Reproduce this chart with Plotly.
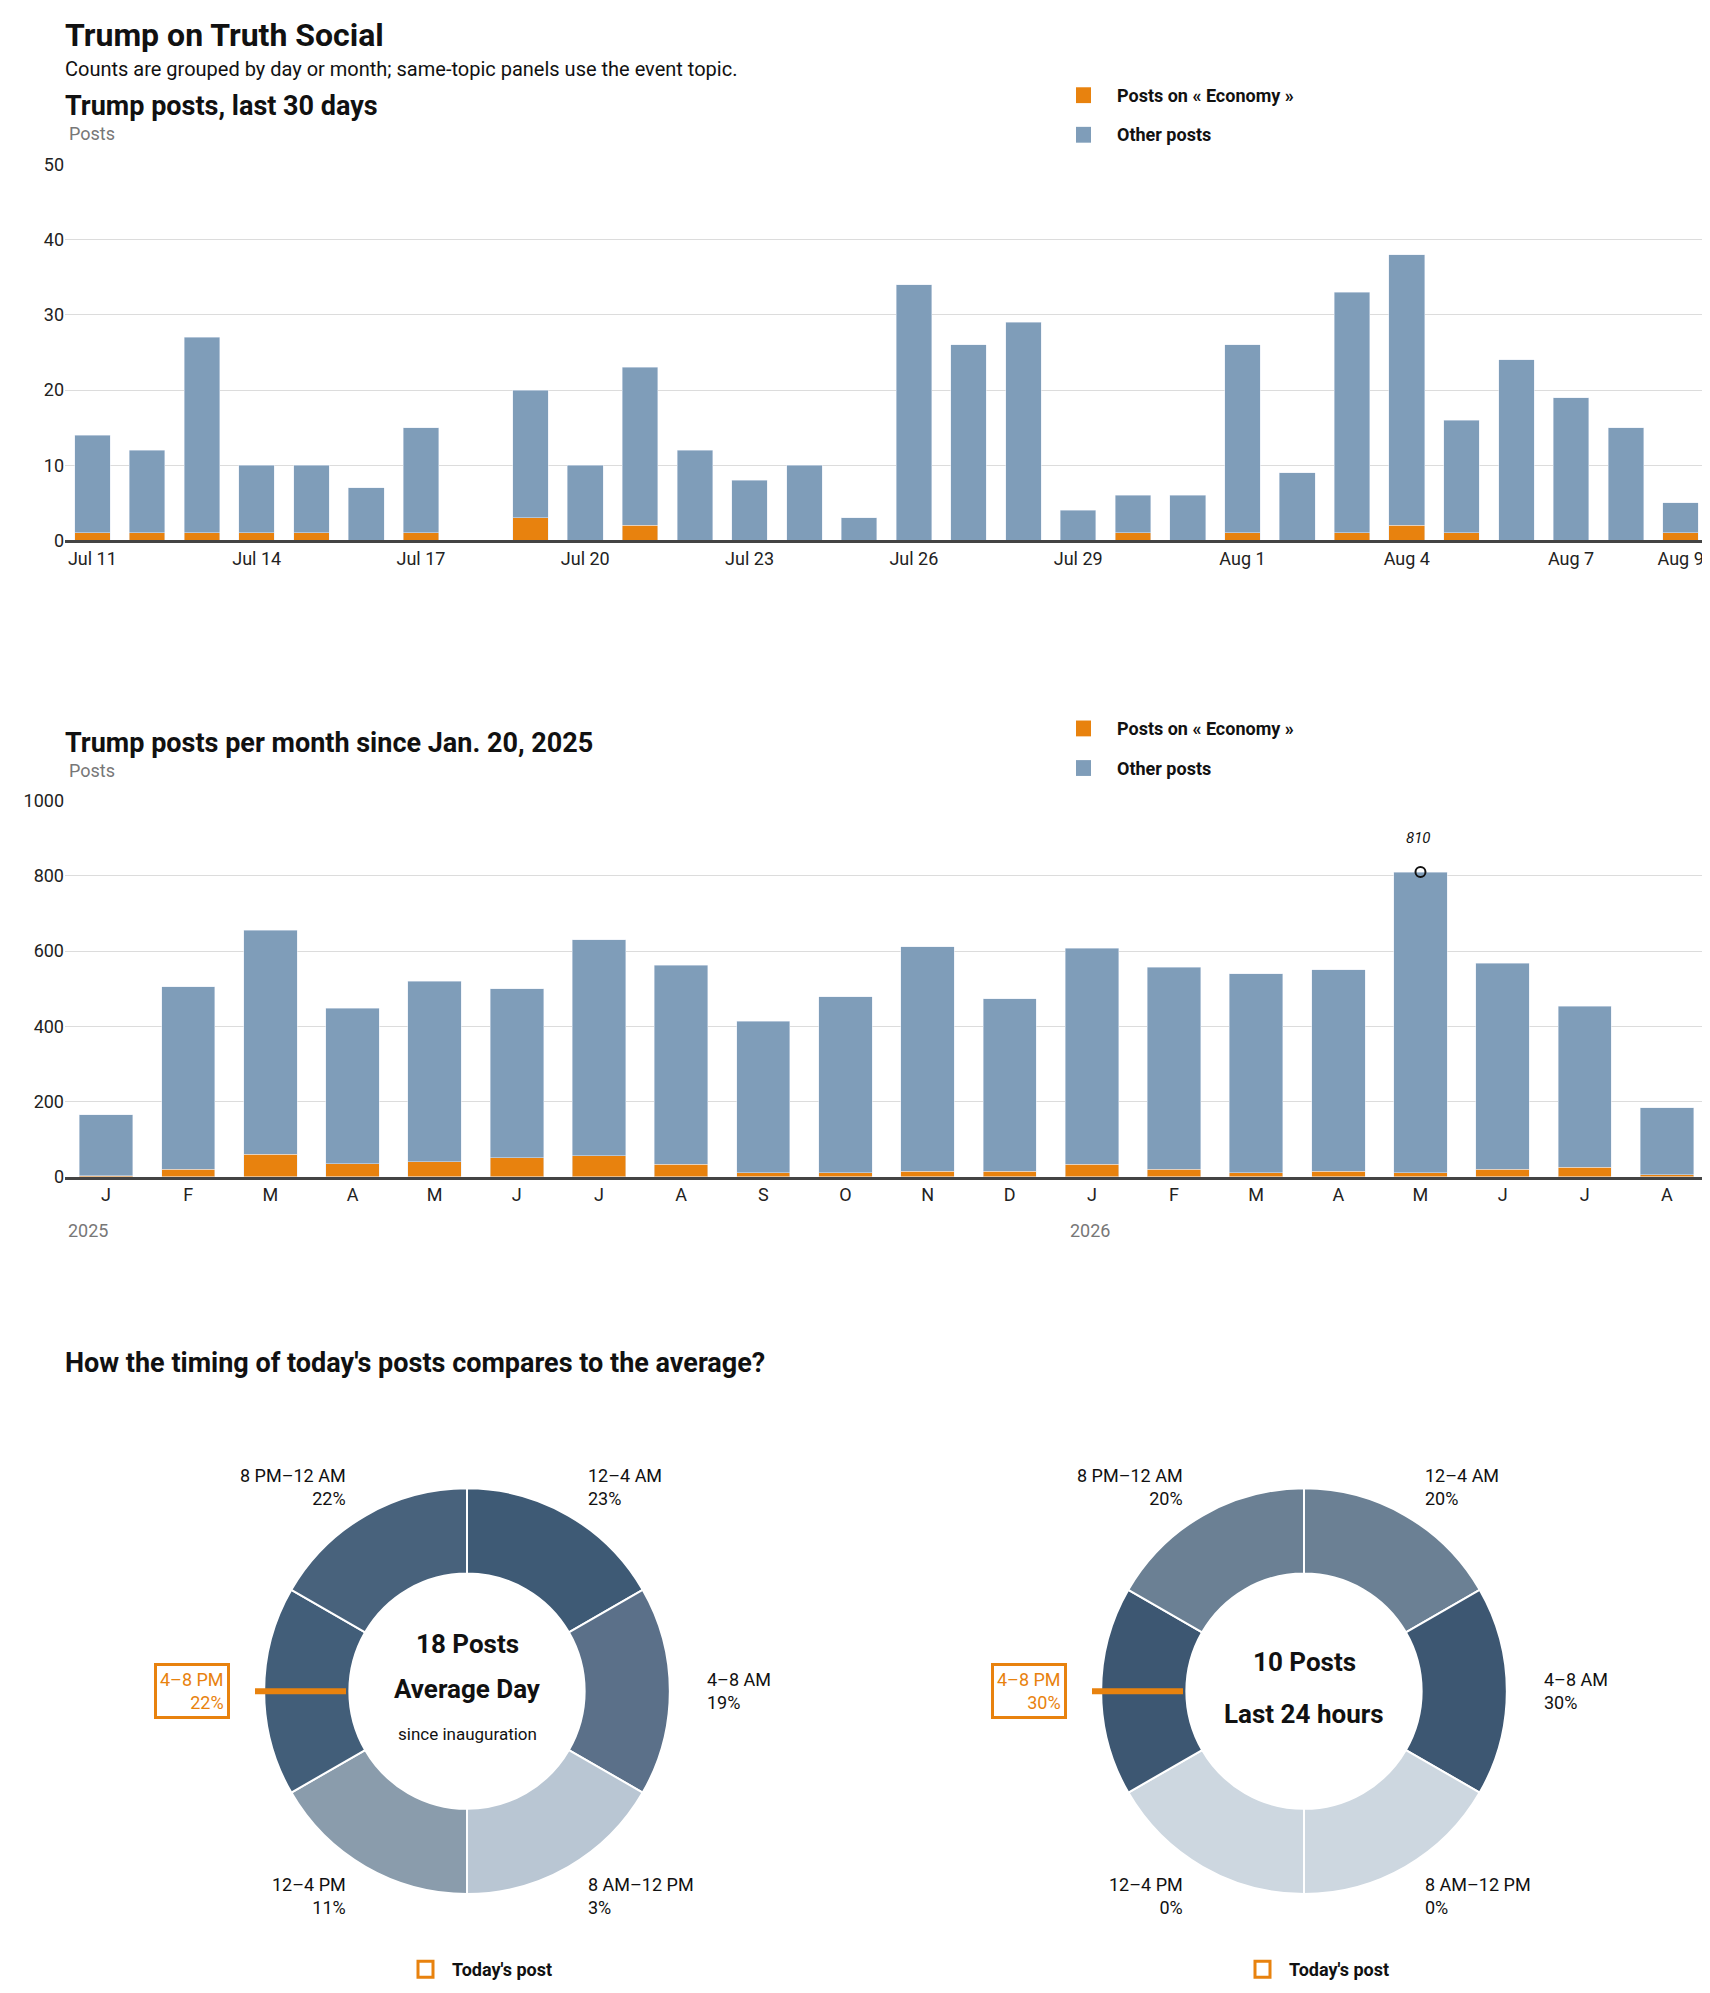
import plotly.graph_objects as go

# ── Data ────────────────────────────────────────────────────────────────
DAYS = ["Jul 11", "Jul 12", "Jul 13", "Jul 14", "Jul 15", "Jul 16", "Jul 17", "Jul 18",
        "Jul 19", "Jul 20", "Jul 21", "Jul 22", "Jul 23", "Jul 24", "Jul 25", "Jul 26",
        "Jul 27", "Jul 28", "Jul 29", "Jul 30", "Jul 31", "Aug 1", "Aug 2", "Aug 3",
        "Aug 4", "Aug 5", "Aug 6", "Aug 7", "Aug 8", "Aug 9"]
DAY_TOTAL = [14, 12, 27, 10, 10, 7, 15, 0, 20, 10, 23, 12, 8, 10, 3, 34,
             26, 29, 4, 6, 6, 26, 9, 33, 38, 16, 24, 19, 15, 5]
DAY_ECON = [1, 1, 1, 1, 1, 0, 1, 0, 3, 0, 2, 0, 0, 0, 0, 0,
            0, 0, 0, 1, 0, 1, 0, 1, 2, 1, 0, 0, 0, 1]
DAY_TICKS = ["Jul 11", "Jul 14", "Jul 17", "Jul 20", "Jul 23", "Jul 26", "Jul 29",
             "Aug 1", "Aug 4", "Aug 7", "Aug 9"]

MONTHS = ["2025-01", "2025-02", "2025-03", "2025-04", "2025-05", "2025-06", "2025-07",
          "2025-08", "2025-09", "2025-10", "2025-11", "2025-12", "2026-01", "2026-02",
          "2026-03", "2026-04", "2026-05", "2026-06", "2026-07", "2026-08"]
MONTH_LABELS = ["J", "F", "M", "A", "M", "J", "J", "A", "S", "O", "N", "D",
                "J", "F", "M", "A", "M", "J", "J", "A"]
MONTH_TOTAL = [165, 505, 655, 448, 520, 500, 630, 562, 413, 478, 612, 473,
               607, 557, 540, 550, 810, 567, 453, 183]
MONTH_ECON = [3, 20, 60, 35, 40, 50, 55, 33, 10, 10, 15, 15,
              33, 20, 10, 15, 10, 20, 25, 5]

SLOTS = ["12–4 AM", "4–8 AM", "8 AM–12 PM", "12–4 PM", "4–8 PM", "8 PM–12 AM"]
AVG_PCT = [23, 19, 3, 11, 22, 22]
TODAY_PCT = [20, 30, 0, 0, 30, 20]
AVG_COLORS = ["#3e5a75", "#5b7089", "#b9c6d3", "#8a9cac", "#425e79", "#48627c"]
TODAY_COLORS = ["#6b8094", "#3d5772", "#cdd7e0", "#cdd7e0", "#3d5772", "#6b8094"]

ORANGE = "#e8820e"
BLUE = "#7f9db9"
FONT = "Liberation Sans Narrow, Roboto, sans-serif"
W, H = 1710, 1993


def py(y):  # pixel row -> paper y
    return 1 - y / H


def px(x):
    return x / W


day_other = [t - e for t, e in zip(DAY_TOTAL, DAY_ECON)]
month_other = [t - e for t, e in zip(MONTH_TOTAL, MONTH_ECON)]

fig = go.Figure()
fig.add_trace(go.Bar(x=DAYS, y=DAY_ECON, marker_color=ORANGE, width=0.65,
                     xaxis="x", yaxis="y"))
fig.add_trace(go.Bar(x=DAYS, y=day_other, marker_color=BLUE, width=0.65,
                     xaxis="x", yaxis="y"))
fig.add_trace(go.Bar(x=MONTHS, y=MONTH_ECON, marker_color=ORANGE, width=0.65,
                     xaxis="x2", yaxis="y2"))
fig.add_trace(go.Bar(x=MONTHS, y=month_other, marker_color=BLUE, width=0.65,
                     xaxis="x2", yaxis="y2"))
peak = MONTH_TOTAL.index(max(MONTH_TOTAL))
fig.add_trace(go.Scatter(x=[MONTHS[peak]], y=[MONTH_TOTAL[peak]], mode="markers",
                         marker=dict(symbol="circle-open", size=10, color="#111",
                                     line=dict(width=2)),
                         xaxis="x2", yaxis="y2"))

for cx, pcts, colors in [(459, AVG_PCT, AVG_COLORS), (1296, TODAY_PCT, TODAY_COLORS)]:
    fig.add_trace(go.Pie(
        labels=SLOTS, values=[1] * 6, sort=False, direction="clockwise", rotation=0,
        hole=0.58, textinfo="none", hoverinfo="label", customdata=pcts,
        marker=dict(colors=colors, line=dict(color="white", width=2)),
        domain=dict(x=[px(cx - 205), px(cx + 205)], y=[py(1895), py(1485)]),
    ))

axis_common = dict(showgrid=False, showline=True, linecolor="#444", linewidth=3,
                   ticks="", tickfont=dict(size=18, color="#222", family=FONT),
                   domain=[px(57), px(1700)], type="category")
yaxis_common = dict(showgrid=True, gridcolor="#dcdcdc", zeroline=False, ticks="",
                    tickfont=dict(size=18, color="#222", family=FONT))
fig.update_layout(
    width=W, height=H, margin=dict(l=0, r=0, t=0, b=0),
    paper_bgcolor="white", plot_bgcolor="white",
    barmode="stack", bargap=0.35, showlegend=False,
    font=dict(family=FONT, color="#111"),
    xaxis=dict(axis_common, anchor="y", tickvals=DAY_TICKS, ticktext=DAY_TICKS),
    yaxis=dict(yaxis_common, domain=[py(527), py(147)], range=[0, 50], dtick=10,
               anchor="x"),
    xaxis2=dict(axis_common, anchor="y2", tickvals=MONTHS, ticktext=MONTH_LABELS),
    yaxis2=dict(yaxis_common, domain=[py(1170), py(790)], range=[0, 1000], dtick=200,
                anchor="x2"),
)

ann = []
shapes = []


def text(x, y, s, size=18, color="#111", bold=False, xanchor="left", **kw):
    ann.append(dict(x=px(x), y=py(y), xref="paper", yref="paper", text=s,
                    showarrow=False, xanchor=xanchor, yanchor="middle",
                    font=dict(size=size, color=color, family=FONT,
                              weight="bold" if bold else "normal"), **kw))


text(55, 16, "Trump on Truth Social", size=32, bold=True)
text(55, 51, "Counts are grouped by day or month; same-topic panels use the event topic.", size=20)
text(55, 88, "Trump posts, last 30 days", size=27, bold=True)
text(59, 116, "Posts", size=18, color="#777")
text(55, 732, "Trump posts per month since Jan. 20, 2025", size=27, bold=True)
text(59, 760, "Posts", size=18, color="#777")
text(58, 1224, "2025", size=18, color="#777")
text(1060, 1224, "2026", size=18, color="#777")
text(1410, 828, "<i>810</i>", size=15, xanchor="center")
text(55, 1358, "How the timing of today's posts compares to the average?", size=27, bold=True)

for ly in (77, 717):
    for dy, label in [(0, "Posts on « Economy »"), (40, "Other posts")]:
        col = ORANGE if dy == 0 else BLUE
        shapes.append(dict(type="rect", xref="paper", yref="paper",
                           x0=px(1068), x1=px(1083), y0=py(ly + dy + 8), y1=py(ly + dy - 8),
                           fillcolor=col, line=dict(width=0)))
        text(1107, ly + dy, label, size=18, bold=True)

for off, pcts, center in [(0, AVG_PCT, [(1642, "18 Posts", 26, True),
                                       (1688, "Average Day", 26, True),
                                       (1733, "since inauguration", 17, False)]),
                          (837, TODAY_PCT, [(1660, "10 Posts", 26, True),
                                            (1713, "Last 24 hours", 26, True)])]:
    cx = 459 + off
    for yy, s, sz, b in center:
        text(cx, yy, s, size=sz, bold=b, xanchor="center")
    text(340 + off, 1484, f"{SLOTS[5]}<br>{pcts[5]}%", xanchor="right", align="right")
    text(578 + off, 1484, f"{SLOTS[0]}<br>{pcts[0]}%", align="left")
    text(697 + off, 1690, f"{SLOTS[1]}<br>{pcts[1]}%", align="left")
    text(578 + off, 1897, f"{SLOTS[2]}<br>{pcts[2]}%", align="left")
    text(340 + off, 1897, f"{SLOTS[3]}<br>{pcts[3]}%", xanchor="right", align="right")
    text(222 + off, 1690, f"{SLOTS[4]}<br>{pcts[4]}%", xanchor="right", align="right",
         color=ORANGE, bordercolor=ORANGE, borderwidth=3, borderpad=3)
    shapes.append(dict(type="line", xref="paper", yref="paper",
                       x0=px(247 + off), x1=px(338 + off), y0=py(1690), y1=py(1690),
                       line=dict(color=ORANGE, width=6)))
    shapes.append(dict(type="rect", xref="paper", yref="paper",
                       x0=px(410 + off), x1=px(425 + off), y0=py(1979), y1=py(1963),
                       fillcolor="white", line=dict(color=ORANGE, width=3)))
    text(442 + off, 1971, "Today's post", size=18, bold=True)

fig.update_layout(annotations=ann, shapes=shapes)
fig.write_html("out.html")
